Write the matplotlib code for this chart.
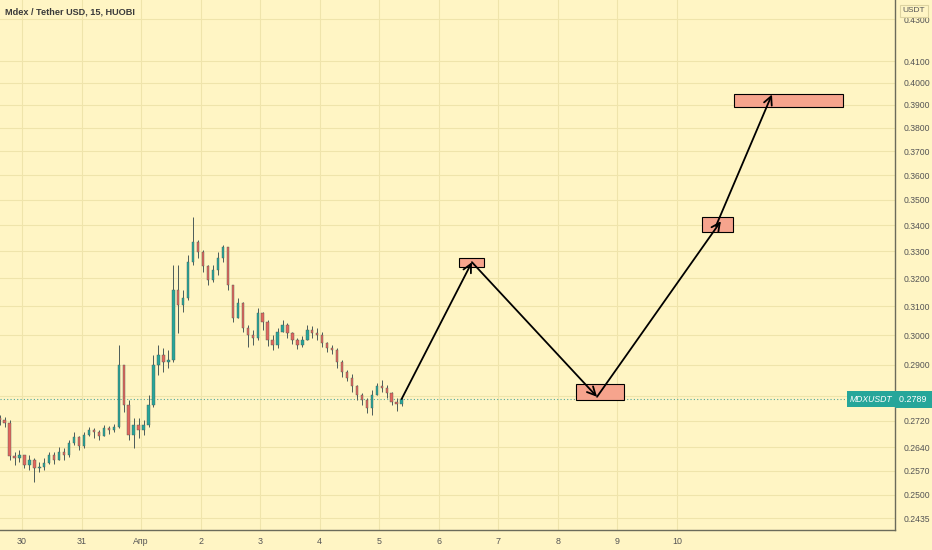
import matplotlib
matplotlib.use("Agg")
import matplotlib.pyplot as plt
import matplotlib.dates as mdates
import matplotlib.transforms as mtransforms
from matplotlib.patches import Rectangle
import pandas as pd

plt.rcParams["font.family"] = ["Liberation Sans", "DejaVu Sans"]

# MDX/USDT candles (2h buckets)
start = "2021-03-29 15:00"
first_open = 0.2730
closes = [0.2723, 0.2714, 0.2613, 0.2608, 0.2616, 0.2587, 0.2602, 0.2578, 0.2581, 0.2593,
          0.2616, 0.2602, 0.2625, 0.2616, 0.2652, 0.2671, 0.2643, 0.2677, 0.2692, 0.2686,
          0.2674, 0.2698, 0.2692, 0.2701, 0.2899, 0.2770, 0.2677, 0.2707, 0.2692, 0.2707,
          0.2770, 0.2899, 0.2932, 0.2909, 0.2916, 0.3158, 0.3104, 0.3129, 0.3260, 0.3335,
          0.3298, 0.3245, 0.3194, 0.3231, 0.3276, 0.3317, 0.3176, 0.3059, 0.3111, 0.3024,
          0.3000, 0.2990, 0.3076, 0.3045, 0.2983, 0.2966, 0.3010, 0.3034, 0.3007, 0.2983,
          0.2966, 0.2983, 0.3017, 0.3007, 0.3000, 0.2973, 0.2956, 0.2949, 0.2909, 0.2876,
          0.2857, 0.2831, 0.2802, 0.2786, 0.2760, 0.2802, 0.2831, 0.2825, 0.2808, 0.2780,
          0.2773, 0.2789]
highs = [0.2738, 0.2732, 0.2723, 0.2625, 0.2631, 0.2616, 0.2616, 0.2608, 0.2596, 0.2608,
         0.2625, 0.2625, 0.2640, 0.2637, 0.2662, 0.2686, 0.2674, 0.2686, 0.2701, 0.2698,
         0.2692, 0.2707, 0.2704, 0.2710, 0.2966, 0.2899, 0.2786, 0.2729, 0.2729, 0.2723,
         0.2802, 0.2932, 0.2966, 0.2956, 0.2949, 0.3249, 0.3249, 0.3158, 0.3287, 0.3432,
         0.3343, 0.3305, 0.3249, 0.3249, 0.3298, 0.3324, 0.3317, 0.3176, 0.3129, 0.3115,
         0.3034, 0.3017, 0.3094, 0.3080, 0.3052, 0.3000, 0.3024, 0.3052, 0.3041, 0.3010,
         0.2990, 0.2997, 0.3034, 0.3031, 0.3024, 0.3010, 0.2976, 0.2966, 0.2956, 0.2916,
         0.2883, 0.2870, 0.2834, 0.2808, 0.2792, 0.2818, 0.2841, 0.2850, 0.2834, 0.2812,
         0.2792, 0.2799]
lows = [0.2707, 0.2701, 0.2602, 0.2587, 0.2596, 0.2578, 0.2572, 0.2537, 0.2566, 0.2572,
        0.2590, 0.2590, 0.2602, 0.2602, 0.2610, 0.2646, 0.2631, 0.2637, 0.2674, 0.2668,
        0.2662, 0.2674, 0.2680, 0.2686, 0.2698, 0.2748, 0.2662, 0.2637, 0.2668, 0.2677,
        0.2700, 0.2765, 0.2866, 0.2876, 0.2889, 0.2909, 0.3007, 0.3080, 0.3122, 0.3249,
        0.3276, 0.3223, 0.3176, 0.3187, 0.3212, 0.3260, 0.3158, 0.3045, 0.3059, 0.3010,
        0.2959, 0.2966, 0.2983, 0.3017, 0.2963, 0.2949, 0.2956, 0.3010, 0.2990, 0.2969,
        0.2952, 0.2959, 0.2983, 0.2990, 0.2983, 0.2959, 0.2942, 0.2936, 0.2889, 0.2860,
        0.2847, 0.2812, 0.2786, 0.2770, 0.2745, 0.2738, 0.2802, 0.2812, 0.2792, 0.2770,
        0.2751, 0.2767]

# drawn projection: arrows and target zones
arrow_starts = [("2021-04-05 09:00", 0.2789), ("2021-04-06 13:20", 0.3260),
                ("2021-04-08 15:45", 0.2796), ("2021-04-10 15:40", 0.3397)]
arrow_ends = [("2021-04-06 13:20", 0.3260), ("2021-04-08 15:45", 0.2796),
              ("2021-04-10 17:40", 0.3416), ("2021-04-11 14:15", 0.3947)]
zone_times = [("2021-04-06 08:05", "2021-04-06 18:10"), ("2021-04-08 07:15", "2021-04-09 02:35"),
              ("2021-04-10 10:05", "2021-04-10 22:35"), ("2021-04-10 23:00", "2021-04-12 18:50")]
zone_prices = [(0.3242, 0.3276), (0.2786, 0.2837), (0.3374, 0.3432), (0.3891, 0.3949)]

yticks = [0.2435, 0.2500, 0.2570, 0.2640, 0.2720, 0.2800, 0.2900, 0.3000, 0.3100, 0.3200,
          0.3300, 0.3400, 0.3500, 0.3600, 0.3700, 0.3800, 0.3900, 0.4000, 0.4100, 0.4300]
xtick_dates = pd.date_range("2021-03-30", "2021-04-10", freq="D")
xtick_labels = ["30", "31", "Апр", "2", "3", "4", "5", "6", "7", "8", "9", "10"]

BG = "#fff5c4"
GRID = "#efe4ab"
UP = "#26a69a"
DOWN = "#e4665c"
WICK = "#4b5b59"
TEXT = "#555555"

times = mdates.date2num(pd.date_range(start, periods=len(closes), freq="2h"))
opens = [first_open] + closes[:-1]

fig = plt.figure(figsize=(9.32, 5.5), dpi=100)
fig.patch.set_facecolor(BG)
ax = fig.add_axes([0, 20 / 550, 895 / 932, 530 / 550])
ax.set_facecolor(BG)
ax.set_yscale("log")

# candles
ax.vlines(times, lows, highs, color=WICK, lw=0.7, zorder=2)
bottoms = [min(o, c) for o, c in zip(opens, closes)]
heights = [max(abs(c - o), 0.0004) for o, c in zip(opens, closes)]
cols = [UP if c >= o else DOWN for o, c in zip(opens, closes)]
ax.bar(times, heights, bottom=bottoms, width=0.04, color=cols,
       edgecolor=WICK, linewidth=0.3, zorder=2)

# last price line
last = closes[-1]
ax.axhline(last, color="#4fa59b", lw=0.8, ls=(0, (1, 2)), zorder=1)

# zones
for (t0, t1), (p0, p1) in zip(zone_times, zone_prices):
    x0 = mdates.date2num(pd.Timestamp(t0))
    x1 = mdates.date2num(pd.Timestamp(t1))
    ax.add_patch(Rectangle((x0, p0), x1 - x0, p1 - p0, facecolor="#f6a48d",
                           edgecolor="black", lw=0.8, zorder=3))

# arrows
for (ts, ps), (te, pe) in zip(arrow_starts, arrow_ends):
    ax.annotate("", xy=(mdates.date2num(pd.Timestamp(te)), pe),
                xytext=(mdates.date2num(pd.Timestamp(ts)), ps),
                arrowprops=dict(arrowstyle="->,head_length=0.6,head_width=0.3",
                                color="black", lw=1.3, shrinkA=0, shrinkB=0),
                zorder=4)

ax.set_xlim(mdates.date2num(pd.Timestamp("2021-03-29 15:09")),
            mdates.date2num(pd.Timestamp("2021-04-13 15:50")))
ax.set_ylim(0.2402, 0.4396)

ax.yaxis.tick_right()
ax.set_yticks(yticks, labels=[f"{v:.4f}" for v in yticks])
ax.minorticks_off()
ax.set_xticks(mdates.date2num(xtick_dates), labels=xtick_labels)
ax.tick_params(axis="y", length=0, pad=6, labelsize=6.2, labelcolor=TEXT)
ax.tick_params(axis="x", length=0, pad=5, labelsize=6.4, labelcolor=TEXT)
ax.grid(True, color=GRID, lw=0.8)
ax.set_axisbelow(True)
for s in ["top", "left"]:
    ax.spines[s].set_visible(False)
for s in ["right", "bottom"]:
    ax.spines[s].set_color("#6b6b5a")
    ax.spines[s].set_linewidth(1.0)

# price labels on the scale (the box hides the 0.2800 tick label)
trans = mtransforms.blended_transform_factory(ax.transAxes, ax.transData)
ax.text(1.004, last, f"{last:.4f} ", transform=trans, ha="left", va="center",
        color="white", fontsize=6.4, clip_on=False, zorder=10,
        bbox=dict(boxstyle="square,pad=0.45", fc=UP, ec="none"))
ax.text(0.997, last, "MDXUSDT", transform=trans, ha="right", va="center",
        color="white", fontsize=6.2, fontstyle="italic", clip_on=False, zorder=10,
        bbox=dict(boxstyle="square,pad=0.35", fc=UP, ec="none"))

fig.text(5 / 932, 1 - 12 / 550, "Mdex / Tether USD, 15, HUOBI", ha="left", va="center",
         fontsize=6.6, color="#3a3a3a", fontweight="bold")
fig.text(914 / 932, 1 - 11 / 550, "USDT", ha="center", va="center", fontsize=6,
         color=TEXT, bbox=dict(boxstyle="square,pad=0.35", fc=BG, ec="#ddd3a0", lw=0.8))

fig.savefig("out.png", dpi=100, facecolor=BG)
